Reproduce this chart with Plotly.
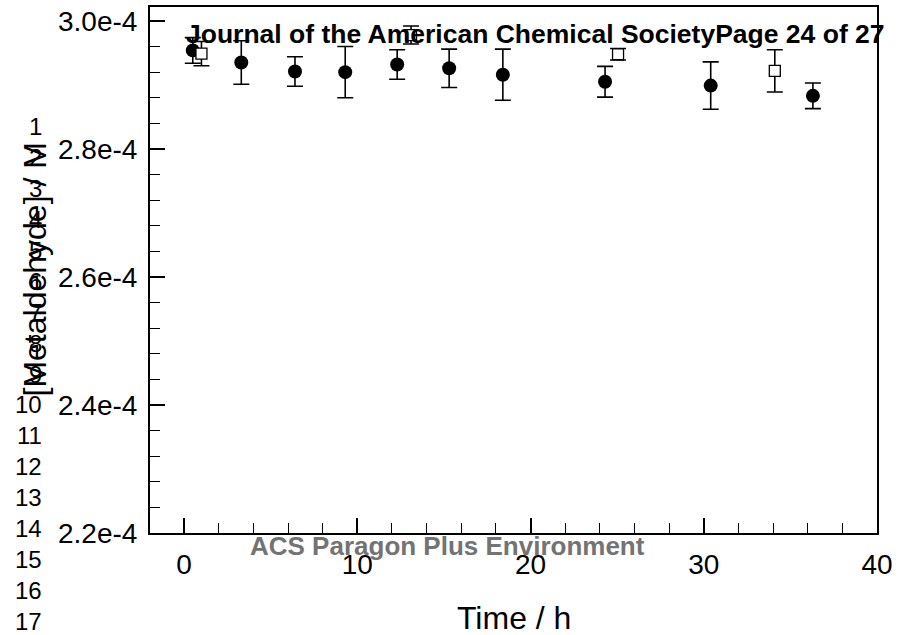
import plotly.graph_objects as go

# ---- data ----
t_circle = [0.5, 3.3, 6.4, 9.3, 12.3, 15.3, 18.4, 24.3, 30.4, 36.3]
c_circle = [2.954e-4, 2.935e-4, 2.921e-4, 2.920e-4, 2.932e-4, 2.926e-4, 2.916e-4, 2.905e-4, 2.899e-4, 2.883e-4]
e_circle = [0.020e-4, 0.034e-4, 0.023e-4, 0.040e-4, 0.023e-4, 0.030e-4, 0.040e-4, 0.024e-4, 0.037e-4, 0.020e-4]

t_square = [1.0, 13.1, 25.05, 34.1]
c_square = [2.949e-4, 2.978e-4, 2.948e-4, 2.922e-4]
e_square = [0.019e-4, 0.014e-4, 0.009e-4, 0.033e-4]

y_tickvals = [2.2e-4, 2.4e-4, 2.6e-4, 2.8e-4, 3.0e-4]
y_ticktext = ["2.2e-4", "2.4e-4", "2.6e-4", "2.8e-4", "3.0e-4"]
x_tickvals = [0, 10, 20, 30, 40]
x_ticktext = ["0", "10", "20", "30", "40"]

line_numbers = [str(i) for i in range(1, 18)]

header_text = "Journal of the American Chemical SocietyPage 24 of 27"
footer_text = "ACS Paragon Plus Environment"
x_title = "Time / h"
y_title = "[Metaldehyde] / M"

FONT = "Liberation Sans, Arial, sans-serif"

# ---- geometry ----
W, H = 898, 635
L, R, T, B = 150, 18, 5, 102
PW = W - L - R
PH = H - T - B

def px_x(px):
    return (px - L) / PW

def px_y(py):
    return (H - B - py) / PH

fig = go.Figure()

fig.add_trace(go.Scatter(
    x=t_circle, y=c_circle, mode="markers",
    marker=dict(symbol="circle", size=14, color="black"),
    error_y=dict(type="data", array=e_circle, color="black", thickness=1.6, width=8),
    showlegend=False,
))
fig.add_trace(go.Scatter(
    x=t_square, y=c_square, mode="markers",
    marker=dict(symbol="square", size=11, color="white", line=dict(color="black", width=1.3)),
    error_y=dict(type="data", array=e_square, color="black", thickness=1.6, width=8),
    showlegend=False,
))

annotations = []
# header / footer
annotations.append(dict(text=header_text, x=px_x(184), y=px_y(32), xref="paper", yref="paper",
                        xanchor="left", yanchor="middle", showarrow=False,
                        font=dict(family=FONT, size=26.5, color="black", weight="bold")))
annotations.append(dict(text=footer_text, x=px_x(449), y=px_y(546), xref="paper", yref="paper",
                        xanchor="center", yanchor="middle", showarrow=False,
                        font=dict(family=FONT, size=26, color="#737373", weight="bold")))
# axis titles
annotations.append(dict(text=x_title, x=px_x(515), y=px_y(618), xref="paper", yref="paper",
                        xanchor="center", yanchor="middle", showarrow=False,
                        font=dict(family=FONT, size=32, color="black")))
annotations.append(dict(text=y_title, x=px_x(35), y=px_y(268), xref="paper", yref="paper",
                        xanchor="center", yanchor="middle", showarrow=False, textangle=-90,
                        font=dict(family=FONT, size=32, color="black")))
# page line numbers
for i, s in enumerate(line_numbers):
    annotations.append(dict(text=s, x=px_x(44), y=px_y(125 + i * 31.05), xref="paper", yref="paper",
                            xanchor="right", yanchor="middle", showarrow=False,
                            font=dict(family=FONT, size=24, color="black")))

fig.update_layout(
    width=W, height=H,
    margin=dict(l=L, r=R, t=T, b=B, pad=0),
    paper_bgcolor="white", plot_bgcolor="white",
    font=dict(family=FONT, size=28, color="black"),
    annotations=annotations,
    xaxis=dict(
        range=[-1.97, 40.0], tickmode="array", tickvals=x_tickvals, ticktext=x_ticktext,
        ticks="inside", ticklen=15, tickwidth=1.6, tickcolor="black",
        showline=True, linecolor="black", linewidth=2, mirror=True,
        showgrid=False, zeroline=False, ticklabelstandoff=5,
        tickfont=dict(family=FONT, size=28, color="black"),
        minor=dict(tickmode="linear", tick0=0, dtick=2, ticks="inside", ticklen=10,
                   tickwidth=1.4, tickcolor="black", showgrid=False),
    ),
    yaxis=dict(
        range=[2.2e-4, 3.0218e-4], tickmode="array", tickvals=y_tickvals, ticktext=y_ticktext,
        ticks="inside", ticklen=15, tickwidth=1.6, tickcolor="black",
        showline=True, linecolor="black", linewidth=2, mirror=True,
        showgrid=False, zeroline=False, ticklabelstandoff=5,
        tickfont=dict(family=FONT, size=28, color="black"),
        minor=dict(tickmode="linear", tick0=2.2e-4, dtick=4e-6, ticks="inside", ticklen=10,
                   tickwidth=1.4, tickcolor="black", showgrid=False),
    ),
)

fig.write_html("out.html")
